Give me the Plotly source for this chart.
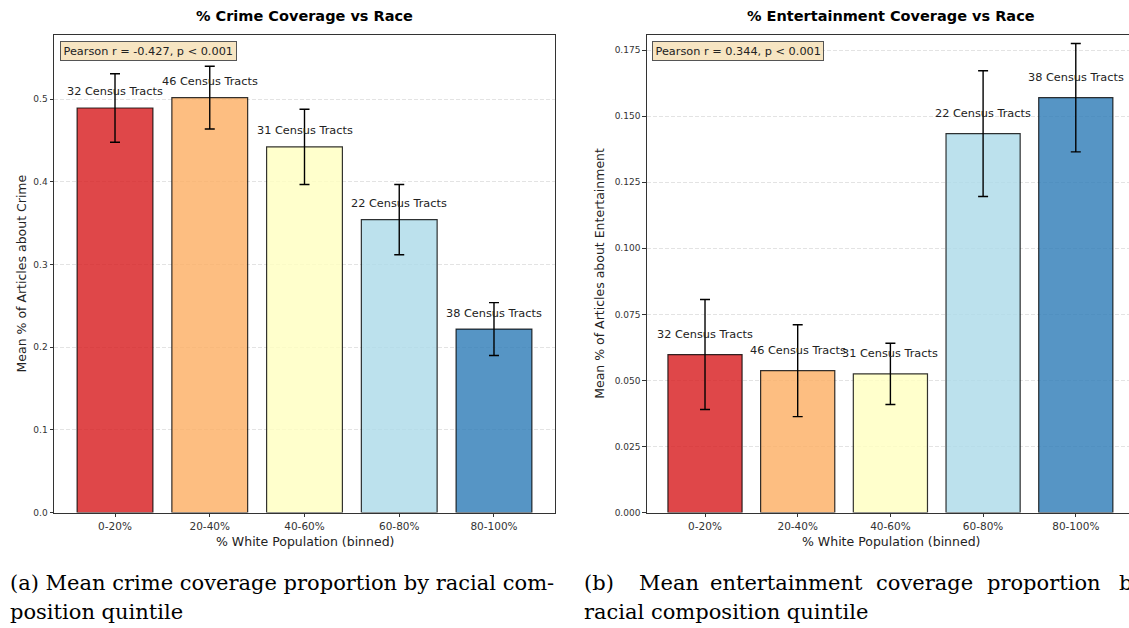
import plotly.graph_objects as go

# ---- data ----
bins = ["0-20%", "20-40%", "40-60%", "60-80%", "80-100%"]
tracts = [32, 46, 31, 22, 38]
crime_mean = [0.4895, 0.502, 0.4425, 0.3545, 0.222]
crime_err = [0.0415, 0.038, 0.0455, 0.0425, 0.032]
ent_mean = [0.0598, 0.0537, 0.0525, 0.1434, 0.1570]
ent_err = [0.0208, 0.0174, 0.0116, 0.0238, 0.0205]
crime_r = -0.427
ent_r = 0.344

# RdYlBu (5 classes) at alpha 0.8
bar_colors = ["rgba(215,25,28,0.8)", "rgba(253,174,97,0.8)", "rgba(255,255,191,0.8)",
              "rgba(171,217,233,0.8)", "rgba(44,123,182,0.8)"]

W, H = 1129, 628
FONT = "DejaVu Sans"
TXT = "#222222"


def px(x):
    return x / W


def py(y):
    return 1 - y / H


fig = go.Figure()

for mean, err, xa, ya in [(crime_mean, crime_err, "x", "y"), (ent_mean, ent_err, "x2", "y2")]:
    fig.add_trace(go.Bar(
        x=bins, y=mean, width=0.8, xaxis=xa, yaxis=ya,
        marker=dict(color=bar_colors, line=dict(color="rgba(0,0,0,0.8)", width=1.2)),
        error_y=dict(type="data", array=err, visible=True, color="black", thickness=1.4, width=5),
        showlegend=False, hoverinfo="skip",
    ))

y_bottom, y_top = py(516.7), py(35.7)
axis_common = dict(showline=True, linecolor="#333333", linewidth=1, ticks="outside",
                   ticklen=3.5, tickwidth=0.8, tickcolor="#333333")
grid_common = dict(showgrid=True, gridcolor="#e3e3e3", griddash="4px,2px", gridwidth=0.8, zeroline=False)

fig.update_layout(
    width=W, height=H, margin=dict(l=0, r=0, t=0, b=0),
    paper_bgcolor="white", plot_bgcolor="white",
    font=dict(family=FONT, color=TXT),
    xaxis=dict(domain=[px(54), px(555)], range=[-0.644, 4.644], anchor="y", mirror=True,
               showgrid=False, tickfont=dict(size=10.5, color="#333333"), **axis_common),
    yaxis=dict(domain=[y_bottom, y_top], range=[0, max(crime_mean) * 1.15], anchor="x", mirror=True,
               dtick=0.1, tickformat=".1f", tickfont=dict(size=9, color="#333333"),
               **grid_common, **axis_common),
    xaxis2=dict(domain=[px(646.7), 1.0], range=[-0.629, 4.574], anchor="y2", mirror=True,
                showgrid=False, tickfont=dict(size=10.5, color="#333333"), **axis_common),
    yaxis2=dict(domain=[y_bottom, y_top], range=[0, max(ent_mean) * 1.15], anchor="x2", mirror=False,
                dtick=0.025, tickformat=".3f", tickfont=dict(size=9, color="#333333"),
                **grid_common, **axis_common),
)

ann = []
# tract-count labels above bars
for mean, xa, ya, shift in [(crime_mean, "x", "y", 16), (ent_mean, "x2", "y2", 20.5)]:
    for b, m, n in zip(bins, mean, tracts):
        ann.append(dict(x=b, y=m, xref=xa, yref=ya, text=f"{n} Census Tracts", showarrow=False,
                        xanchor="center", yanchor="middle", yshift=shift,
                        font=dict(size=11.3, color=TXT)))

# correlation boxes
for r, xa, ya in [(crime_r, "x domain", "y domain"), (ent_r, "x2 domain", "y2 domain")]:
    ann.append(dict(x=0.012, y=0.968, xref=xa, yref=ya, xanchor="left", yanchor="middle",
                    text=f"Pearson r = {r:.3f}, p < 0.001", showarrow=False,
                    bgcolor="rgba(245,222,179,0.8)", bordercolor="#555555", borderwidth=1,
                    borderpad=2.5, font=dict(size=11.3, color=TXT)))

# panel titles
for t, cx in [("<b>% Crime Coverage vs Race</b>", 304.5), ("<b>% Entertainment Coverage vs Race</b>", 891)]:
    ann.append(dict(x=px(cx), y=py(16), xref="paper", yref="paper", text=t, showarrow=False,
                    xanchor="center", yanchor="middle", font=dict(size=14.5, color="black")))

# axis titles
for cx in [304.5, 891]:
    ann.append(dict(x=px(cx), y=py(546), xref="paper", yref="paper", text="% White Population (binned)",
                    showarrow=False, xanchor="center", yanchor="middle", font=dict(size=12.5, color=TXT)))
for cx, t in [(21.7, "Mean % of Articles about Crime"), (600, "Mean % of Articles about Entertainment")]:
    ann.append(dict(x=px(cx), y=py(276), xref="paper", yref="paper", text=t, textangle=-90,
                    showarrow=False, xanchor="center", yanchor="middle", font=dict(size=12.5, color=TXT)))

# sub-figure captions
SERIF = "DejaVu Serif"
CAP = 21
LINE1, LINE2 = 587.5, 616.5
ann.append(dict(x=px(8), y=py(LINE1), xref="paper", yref="paper", xanchor="left", yanchor="middle",
                text="(a) Mean crime coverage proportion by racial com-", showarrow=False,
                font=dict(family=SERIF, size=CAP, color="black")))
ann.append(dict(x=px(8), y=py(LINE2), xref="paper", yref="paper", xanchor="left", yanchor="middle",
                text="position quintile", showarrow=False, font=dict(family=SERIF, size=CAP, color="black")))
# justified first line of caption (b), one word at a time
for word, wx in [("(b)", 582), ("Mean", 637), ("entertainment", 708), ("coverage", 874),
                 ("proportion", 985), ("by", 1117)]:
    ann.append(dict(x=px(wx), y=py(LINE1), xref="paper", yref="paper", xanchor="left", yanchor="middle",
                    text=word, showarrow=False, font=dict(family=SERIF, size=CAP, color="black")))
ann.append(dict(x=px(582), y=py(LINE2), xref="paper", yref="paper", xanchor="left", yanchor="middle",
                text="racial composition quintile", showarrow=False,
                font=dict(family=SERIF, size=CAP, color="black")))

fig.update_layout(annotations=ann)
fig.write_html("out.html")
